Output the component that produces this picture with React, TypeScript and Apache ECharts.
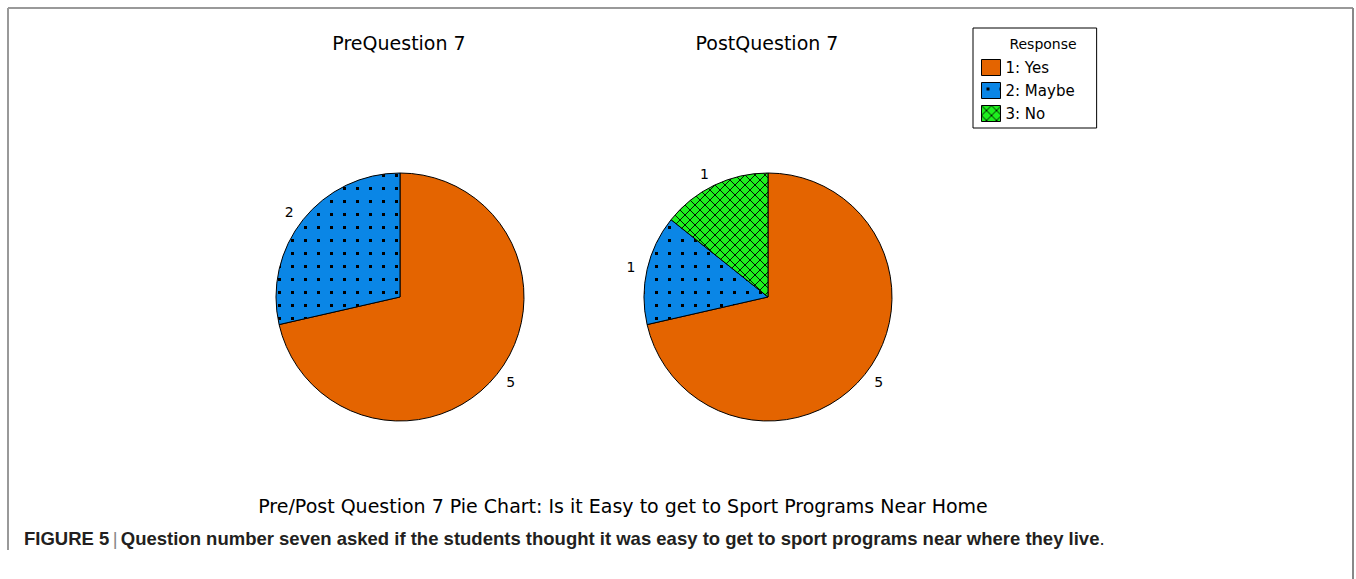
import React, { useEffect, useRef } from "react";
import * as echarts from "echarts";

const categories = ["1: Yes", "2: Maybe", "3: No"];
const preValues = [5, 2, 0];
const postValues = [5, 1, 1];
const pieTitles = ["PreQuestion 7", "PostQuestion 7"];
const legendTitle = "Response";
const chartSubtitle = "Pre/Post Question 7 Pie Chart: Is it Easy to get to Sport Programs Near Home";
const captionLead = "FIGURE 5";
const captionText = "Question number seven asked if the students thought it was easy to get to sport programs near where they live";

const FONT = "DejaVu Sans";

const dotsSvg =
  "data:image/svg+xml;charset=utf-8," +
  encodeURIComponent(
    '<svg xmlns="http://www.w3.org/2000/svg" width="13" height="13"><rect width="13" height="13" fill="#0A86E6"/><rect x="5" y="5" width="3" height="3" fill="#000"/></svg>'
  );
const hatchSvg =
  "data:image/svg+xml;charset=utf-8," +
  encodeURIComponent(
    '<svg xmlns="http://www.w3.org/2000/svg" width="10" height="10"><rect width="10" height="10" fill="#1EF01E"/><path d="M0 0L10 10M10 0L0 10" stroke="#000" stroke-width="0.9"/></svg>'
  );

const fills: any[] = [
  "#E46400",
  { image: dotsSvg, repeat: "repeat", imageWidth: 13, imageHeight: 13 },
  { image: hatchSvg, repeat: "repeat", imageWidth: 10, imageHeight: 10 },
];

function buildData(values: number[]) {
  return categories
    .map((name, i) => ({
      name,
      value: values[i],
      itemStyle: { color: fills[i] },
    }))
    .filter((d) => d.value > 0);
}

export default function App() {
  const ref = useRef<HTMLDivElement>(null);
  useEffect(() => {
    if (!ref.current) return;
    const chart = echarts.init(ref.current, undefined, { renderer: "svg" });
    const pieCommon = {
      type: "pie",
      radius: 124,
      startAngle: 90,
      clockwise: true,
      avoidLabelOverlap: false,
      itemStyle: { borderColor: "#000", borderWidth: 1 },
      label: {
        show: true,
        position: "outside",
        formatter: "{c}",
        fontFamily: FONT,
        fontSize: 14,
        color: "#000",
        distanceToLabelLine: 0,
      },
      labelLine: { show: false, length: 12, length2: 0 },
      emphasis: { disabled: true },
    };
    chart.setOption({
      animation: false,
      backgroundColor: "#fff",
      legend: {
        orient: "vertical",
        left: 973,
        top: 28,
        padding: [31, 22, 6, 8],
        borderColor: "#000",
        borderWidth: 1,
        icon: "rect",
        itemWidth: 19,
        itemHeight: 16,
        itemGap: 6,
        data: categories,
        itemStyle: { borderColor: "#000", borderWidth: 1 },
        textStyle: { fontFamily: FONT, fontSize: 15, color: "#000" },
        selectedMode: false,
      },
      series: [
        { ...pieCommon, name: pieTitles[0], center: [400, 297], data: buildData(preValues) },
        { ...pieCommon, name: pieTitles[1], center: [768, 297], data: buildData(postValues) },
      ],
      graphic: [
        { type: "line", shape: { x1: 8, y1: 8, x2: 1353, y2: 8 }, style: { stroke: "#999", lineWidth: 2 } },
        { type: "line", shape: { x1: 8, y1: 8, x2: 8, y2: 550 }, style: { stroke: "#999", lineWidth: 2 } },
        { type: "line", shape: { x1: 1353, y1: 8, x2: 1353, y2: 579 }, style: { stroke: "#888", lineWidth: 2 } },
        {
          type: "text",
          x: 399,
          y: 43,
          style: { text: pieTitles[0], fontFamily: FONT, fontSize: 19, fill: "#000", align: "center", verticalAlign: "middle" },
        },
        {
          type: "text",
          x: 767,
          y: 43,
          style: { text: pieTitles[1], fontFamily: FONT, fontSize: 19, fill: "#000", align: "center", verticalAlign: "middle" },
        },
        {
          type: "text",
          x: 1043,
          y: 44,
          style: { text: legendTitle, fontFamily: FONT, fontSize: 14, fill: "#000", align: "center", verticalAlign: "middle" },
        },
        {
          type: "text",
          x: 623,
          y: 506,
          style: { text: chartSubtitle, fontFamily: FONT, fontSize: 19, fill: "#000", align: "center", verticalAlign: "middle" },
        },
        {
          type: "text",
          x: 24,
          y: 538,
          style: {
            text: "{b|" + captionLead + "} {s||} {b|" + captionText + "}{n|.}",
            align: "left",
            verticalAlign: "middle",
            rich: {
              b: { fontFamily: "Liberation Sans", fontWeight: "bold", fontSize: 18.5, fill: "#231F20" },
              s: { fontFamily: "Liberation Sans", fontSize: 18.5, fill: "#888" },
              n: { fontFamily: "Liberation Sans", fontSize: 18.5, fill: "#231F20" },
            },
          },
        },
      ],
    });
    return () => chart.dispose();
  }, []);
  return <div ref={ref} style={{ position: "fixed", left: 0, top: 0, width: 1356, height: 579 }} />;
}
